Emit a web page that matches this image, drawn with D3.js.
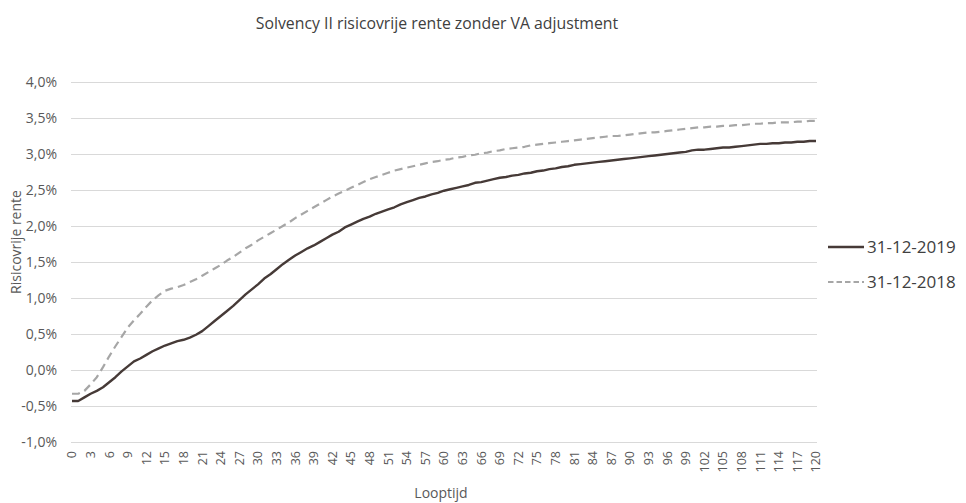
<!DOCTYPE html>
<html lang="nl">
<head>
    <meta charset="UTF-8">
    <title>Solvency II risicovrije rente zonder VA adjustment</title>
    <style>
        body { margin: 0; background: #fff; }
        svg { font-family: "Open Sans", "Noto Sans", sans-serif; }
        .grid line { stroke: #d9d9d9; stroke-width: 1; }
        .tick-label { fill: #595959; font-size: 14px; }
        .x-label { font-size: 12.5px; }
        .axis-title { fill: #595959; font-size: 14px; }
        .title { fill: #404040; font-size: 15.8px; }
        .legend text { fill: #404040; font-size: 17px; }
    </style>
</head>
<body>
    <div id="chart"></div>

    <script src="https://d3js.org/d3.v7.min.js"></script>
    <script>
        // looptijd in jaren
        const looptijd = d3.range(0, 121);

        const xTickLabels = [0, 3, 6, 9, 12, 15, 18, 21, 24, 27, 30, 33, 36, 39, 42, 45, 48, 51, 54, 57, 60,
            63, 66, 69, 72, 75, 78, 81, 84, 87, 90, 93, 96, 99, 102, 105, 108, 111, 114, 117, 120];
        const yTicks = [-1.0, -0.5, 0.0, 0.5, 1.0, 1.5, 2.0, 2.5, 3.0, 3.5, 4.0];

        // rente in %
        const rente2019 = [
            -0.43, -0.43, -0.38, -0.33, -0.29, -0.24, -0.17, -0.10, -0.02, 0.05,
            0.12, 0.16, 0.21, 0.26, 0.30, 0.34, 0.37, 0.40, 0.42, 0.45,
            0.49, 0.54, 0.61, 0.68, 0.75, 0.82, 0.89, 0.97, 1.05, 1.12,
            1.19, 1.27, 1.33, 1.40, 1.47, 1.53, 1.59, 1.64, 1.69, 1.73,
            1.78, 1.83, 1.88, 1.92, 1.98, 2.02, 2.06, 2.10, 2.13, 2.17,
            2.20, 2.23, 2.26, 2.30, 2.33, 2.36, 2.39, 2.41, 2.44, 2.46,
            2.49, 2.51, 2.53, 2.55, 2.57, 2.60, 2.61, 2.63, 2.65, 2.67,
            2.68, 2.70, 2.71, 2.73, 2.74, 2.76, 2.77, 2.79, 2.80, 2.82,
            2.83, 2.85, 2.86, 2.87, 2.88, 2.89, 2.90, 2.91, 2.92, 2.93,
            2.94, 2.95, 2.96, 2.97, 2.98, 2.99, 3.00, 3.01, 3.02, 3.03,
            3.05, 3.06, 3.06, 3.07, 3.08, 3.09, 3.09, 3.10, 3.11, 3.12,
            3.13, 3.14, 3.14, 3.15, 3.15, 3.16, 3.16, 3.17, 3.17, 3.18,
            3.18
        ];

        const rente2018 = [
            -0.33, -0.33, -0.29, -0.20, -0.10, 0.04, 0.19, 0.33, 0.46, 0.59,
            0.69, 0.78, 0.88, 0.97, 1.04, 1.10, 1.13, 1.15, 1.18, 1.22,
            1.26, 1.31, 1.36, 1.41, 1.46, 1.52, 1.57, 1.63, 1.69, 1.74,
            1.80, 1.85, 1.90, 1.95, 2.00, 2.05, 2.11, 2.16, 2.21, 2.26,
            2.31, 2.36, 2.41, 2.45, 2.49, 2.53, 2.57, 2.61, 2.65, 2.68,
            2.71, 2.74, 2.77, 2.79, 2.81, 2.83, 2.85, 2.87, 2.89, 2.90,
            2.92, 2.93, 2.95, 2.96, 2.98, 2.99, 3.01, 3.02, 3.04, 3.05,
            3.07, 3.08, 3.09, 3.10, 3.12, 3.13, 3.14, 3.15, 3.16, 3.17,
            3.18, 3.19, 3.20, 3.21, 3.22, 3.23, 3.24, 3.25, 3.25, 3.26,
            3.27, 3.28, 3.29, 3.30, 3.30, 3.31, 3.32, 3.33, 3.34, 3.35,
            3.36, 3.37, 3.37, 3.38, 3.38, 3.39, 3.39, 3.40, 3.40, 3.41,
            3.42, 3.42, 3.43, 3.43, 3.44, 3.44, 3.44, 3.45, 3.45, 3.46,
            3.46
        ];

        const series = [
            { name: "31-12-2019", values: rente2019, color: "#463a37", width: 2.4, dash: null, legendDash: null },
            { name: "31-12-2018", values: rente2018, color: "#a6a6a6", width: 2.2, dash: "8,5", legendDash: "5.5,3" }
        ];

        const width = 966;
        const height = 503;
        const plot = { left: 72, right: 816, top: 82, bottom: 442 };

        const svg = d3.select("#chart").append("svg")
            .attr("width", width)
            .attr("height", height);

        const x = d3.scaleLinear().domain([0, 120]).range([plot.left, plot.right]);
        const y = d3.scaleLinear().domain([-1.0, 4.0]).range([plot.bottom, plot.top]);

        // gridlijnen
        svg.append("g").attr("class", "grid")
            .selectAll("line")
            .data(yTicks)
            .enter()
            .append("line")
            .attr("x1", plot.left - 1)
            .attr("x2", plot.right + 1)
            .attr("y1", d => Math.round(y(d)) + 0.5)
            .attr("y2", d => Math.round(y(d)) + 0.5);

        // y labels
        const fmt = d => d.toFixed(1).replace(".", ",") + "%";
        svg.append("g")
            .selectAll("text")
            .data(yTicks)
            .enter()
            .append("text")
            .attr("class", "tick-label")
            .attr("x", 57)
            .attr("y", d => y(d))
            .attr("dy", "0.35em")
            .attr("text-anchor", "end")
            .text(fmt);

        // x labels, gedraaid
        svg.append("g")
            .selectAll("text")
            .data(xTickLabels)
            .enter()
            .append("text")
            .attr("class", "tick-label x-label")
            .attr("transform", d => `translate(${x(d)},${plot.bottom + 9}) rotate(-90)`)
            .attr("dy", "0.35em")
            .attr("text-anchor", "end")
            .text(d => d);

        // lijnen
        const line = d3.line()
            .x((d, i) => x(looptijd[i]))
            .y(d => y(d));

        svg.append("g")
            .selectAll("path")
            .data(series.slice().reverse())
            .enter()
            .append("path")
            .attr("fill", "none")
            .attr("stroke", d => d.color)
            .attr("stroke-width", d => d.width)
            .attr("stroke-dasharray", d => d.dash)
            .attr("stroke-linejoin", "round")
            .attr("d", d => line(d.values));

        // titels
        svg.append("text")
            .attr("class", "title")
            .attr("x", 437)
            .attr("y", 29)
            .attr("text-anchor", "middle")
            .text("Solvency II risicovrije rente zonder VA adjustment");

        svg.append("text")
            .attr("class", "axis-title")
            .attr("x", 441)
            .attr("y", 498)
            .attr("text-anchor", "middle")
            .text("Looptijd");

        svg.append("text")
            .attr("class", "axis-title")
            .attr("transform", "translate(16,242) rotate(-90)")
            .attr("dy", "0.35em")
            .attr("text-anchor", "middle")
            .text("Risicovrije rente");

        // legenda
        const legend = svg.append("g").attr("class", "legend")
            .selectAll("g")
            .data(series)
            .enter()
            .append("g")
            .attr("transform", (d, i) => `translate(828,${247 + i * 35})`);

        legend.append("line")
            .attr("x1", 0)
            .attr("x2", 36)
            .attr("stroke", d => d.color)
            .attr("stroke-width", d => d.width)
            .attr("stroke-dasharray", d => d.legendDash);

        legend.append("text")
            .attr("x", 39)
            .attr("dy", "0.35em")
            .text(d => d.name);
    </script>
</body>
</html>
